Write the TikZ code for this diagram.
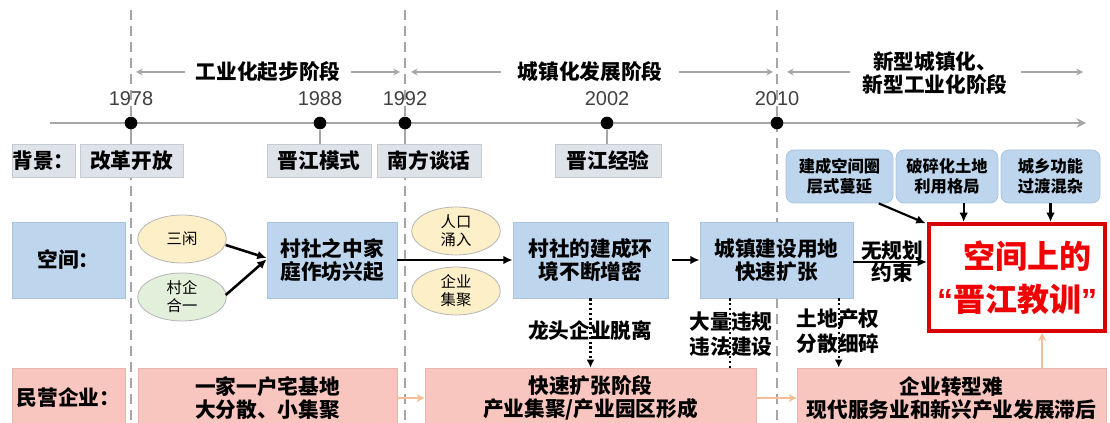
\documentclass[tikz,border=0pt]{standalone}
\usepackage{fontspec}
\newfontfamily\cjk{Noto Sans CJK SC}
\newfontfamily\lat{Liberation Sans}
\usetikzlibrary{shapes.geometric,arrows.meta}
\definecolor{gline}{HTML}{A6A6A6}
\definecolor{bgfill}{HTML}{DEE3EA}
\definecolor{bgline}{HTML}{C6CBD2}
\definecolor{bluefill}{HTML}{BDD6EE}
\definecolor{blueline}{HTML}{A9C3DD}
\definecolor{pinkfill}{HTML}{F8C6BF}
\definecolor{pinkline}{HTML}{EBB4AC}
\definecolor{yelfill}{HTML}{FDEFC8}
\definecolor{grnfill}{HTML}{E2EFDA}
\definecolor{ellline}{HTML}{B5B5B5}
\definecolor{redc}{HTML}{D90000}
\definecolor{redt}{HTML}{F00000}
\definecolor{orng}{HTML}{F6BE98}
% \mybox{name}{x1}{y1}{x2}{y2}{style}{text}
\newcommand\mybox[7]{\node[#6, minimum width={(#4-#2)*0.75pt}, minimum height={(#5-#3)*0.75pt}] (#1) at ({(#2+#4)/2},{(#3+#5)/2}) {#7};}
\begin{document}
\begin{tikzpicture}[x=0.75pt,y=-0.75pt,
  rbox/.style={draw=#1line, fill=#1fill, line width=0.6pt, inner sep=0pt, align=center,
     font=\cjk\bfseries\fontsize{15.5}{17.5}\selectfont},
  tbox/.style={draw=blueline, fill=bluefill, line width=0.6pt, inner sep=0pt, align=center,
     rounded corners=6pt, font=\cjk\bfseries\fontsize{12.2}{15}\selectfont},
  redbox/.style={draw=redc, fill=white, line width=3pt, inner sep=0pt, align=center,
     font=\cjk\bfseries\fontsize{24}{31}\selectfont, text=redt},
  ell/.style={ellipse, draw=ellline, fill=#1, line width=0.6pt, inner sep=0pt, align=center,
     minimum width=66.5pt, minimum height=36pt, font=\cjk\fontsize{11.5}{13.5}\selectfont},
  dsh/.style={draw=gline, line width=1.7pt, dash pattern=on 7.5pt off 4.5pt},
  tick/.style={draw=gline, line width=1.6pt},
  yr/.style={font=\lat\fontsize{15}{15}\selectfont, text=black!75},
  stage/.style={font=\cjk\bfseries\fontsize{15.5}{17.5}\selectfont, align=center},
  sarr/.style={draw=gline, line width=1.4pt, -{Stealth[length=5pt,width=5pt]}},
  blk/.style={draw=black, line width=1.9pt, -{Latex[length=7pt,width=6.5pt]}},
  dotarr/.style={draw=black, line width=1.6pt, dotted, -{Latex[length=6pt,width=6pt]}},
  oarr/.style={draw=orng, line width=1.5pt, -{Stealth[length=6pt,width=6pt]}},
  lbl/.style={font=\cjk\bfseries\fontsize{15.5}{19}\selectfont, align=center},
  dot/.style={circle, fill=black, inner sep=0pt, minimum size=9.5pt}
]
\useasboundingbox (0,0) rectangle (1110,423);

% dashed stage separators
\coordinate (s1t) at (131,10); \coordinate (s1b) at (131,423);
\coordinate (s2t) at (405,10); \coordinate (s2b) at (405,423);
\coordinate (s3t) at (777,10); \coordinate (s3b) at (777,423);
\draw[dsh] (s1t) -- (s1b);
\draw[dsh] (s2t) -- (s2b);
\draw[dsh] (s3t) -- (s3b);

% timeline
\coordinate (tl0) at (50,123); \coordinate (tl1) at (1086,123);
\draw[draw=gline, line width=2.2pt, -{Stealth[length=7pt,width=7pt]}] (tl0) -- (tl1);

% stage labels
\node[stage] (st1) at (268,72) {工业化起步阶段};
\coordinate (st1l) at (136,72); \coordinate (st1r) at (400,72);
\draw[sarr] ([xshift=-4.5pt]st1.west) -- (st1l);
\draw[sarr] ([xshift=4.5pt]st1.east) -- (st1r);
\node[stage] (st2) at (590,72) {城镇化发展阶段};
\coordinate (st2l) at (411,72); \coordinate (st2r) at (773,72);
\draw[sarr] ([xshift=-9pt]st2.west) -- (st2l);
\draw[sarr] ([xshift=9pt]st2.east) -- (st2r);
\node[stage] (st3) at (935,73) {新型城镇化、\\新型工业化阶段};
\coordinate (st3l) at (787,72); \coordinate (st3r) at (1083,72);
\draw[sarr] ([xshift=-6pt,yshift=0.75pt]st3.west) -- (st3l);
\draw[sarr] ([xshift=7pt,yshift=0.75pt]st3.east) -- (st3r);

% background row
\mybox{bglab}{12}{144}{75}{177}{rbox=bg}{背景：}
\mybox{b1}{80}{144}{183}{177}{rbox=bg}{改革开放}
\mybox{b2}{267}{144}{371}{177}{rbox=bg}{晋江模式}
\mybox{b3}{377}{144}{481}{177}{rbox=bg}{南方谈话}
\mybox{b4}{555}{144}{661}{177}{rbox=bg}{晋江经验}

% dots, years, ticks
\node[dot] (d1) at (131,123) {};
\node[dot] (d2) at (320,123) {};
\node[dot] (d3) at (405,123) {};
\node[dot] (d4) at (607,123) {};
\node[dot] (d5) at (777,123) {};
\node[yr] (y1) at (131,99) {1978};
\node[yr] (y2) at (320,99) {1988};
\node[yr] (y3) at (405,99) {1992};
\node[yr] (y4) at (607,99) {2002};
\node[yr] (y5) at (777,99) {2010};
\draw[tick] (d1) -- (d1 |- b1.north);
\draw[tick] (d2) -- (d2 |- b2.north);
\draw[tick] (d3) -- (d3 |- b3.north);
\draw[tick] (d4) -- (d4 |- b4.north);

% top-right boxes
\mybox{t1}{786}{150}{893}{203}{tbox}{建成空间圈\\层式蔓延}
\mybox{t2}{896}{150}{998}{203}{tbox}{破碎化土地\\利用格局}
\mybox{t3}{1001}{150}{1100}{203}{tbox}{城乡功能\\过渡混杂}

% space row
\mybox{sp}{12}{222}{125}{298}{rbox=blue}{空间：}
\node[ell=yelfill] (e1) at (182,239) {三闲};
\node[ell=grnfill] (e2) at (182,297) {村企\\合一};
\mybox{n1}{267}{222}{397}{298}{rbox=blue}{村社之中家\\庭作坊兴起}
\node[ell=yelfill] (e3) at (456,231) {人口\\涌入};
\node[ell=yelfill] (e4) at (456,291) {企业\\集聚};
\mybox{n2}{513}{222}{668}{298}{rbox=blue}{村社的建成环\\境不断增密}
\mybox{n3}{700}{222}{853}{298}{rbox=blue}{城镇建设用地\\快速扩张}
\mybox{red}{929}{224}{1105}{331}{redbox}{\hspace{16pt}空间上的\\[1pt]{\lat\bfseries “}晋江教训{\lat\bfseries ”}}

\draw[blk] (e1.east) ++(-1,6) -- ([yshift=1.5pt]n1.west);
\draw[blk] (e2.east) ++(-1,-2) -- ([yshift=0.5pt]n1.west);
\draw[blk] (n1.east) -- (n2.west);
\draw[blk] (n2.east) ++(4,0) -- (n3.west);
\draw[blk] ([yshift=-1.5pt]n3.east) -- ([yshift=-1.5pt]n3.east -| red.west);
\node[lbl] (w1) at (892,251) {无规划};
\node[lbl] (w2) at (892,273) {约束};
\draw[blk, line width=1.6pt] ([xshift=-11pt]t1.south east) -- ([xshift=-1pt,yshift=-1pt]red.north west);
\draw[blk, line width=1.6pt] ([xshift=12.5pt]t2.south) -- ([xshift=12.5pt]t2.south |- red.north);
\draw[blk, line width=1.6pt] (t3.south) -- (t3.south |- red.north);

% enterprise row
\mybox{pe}{12}{368}{125}{428}{rbox=pink}{民营企业：}
\mybox{p1}{138}{368}{397}{428}{rbox=pink}{一家一户宅基地\\大分散、小集聚}
\mybox{p2}{425}{368}{756}{428}{rbox=pink}{快速扩张阶段\\产业集聚/产业园区形成}
\mybox{p3}{797}{368}{1106}{428}{rbox=pink}{企业转型难\\现代服务业和新兴产业发展滞后}
\draw[oarr] ([yshift=0pt]p1.east) -- ([yshift=0pt]p2.west);
\draw[oarr] ([yshift=0pt]p2.east) -- ([yshift=0pt]p3.west);
\draw[oarr] ([xshift=68pt]p3.north) -- ([xshift=68pt]p3.north |- red.south);

% dotted links
\draw[dotarr] (n2.south) -- (n2.south |- p2.north);
\node[lbl] (l1) at (590,331) {龙头企业脱离};
\draw[draw=black, line width=1.6pt, dotted] ([xshift=-92.5pt]n3.south east) -- ([xshift=-92.5pt]n3.south east |- p2.north);
\node[lbl] (l2) at (731,334) {大量违规\\违法建设};
\draw[dotarr] ([xshift=-11pt]n3.south east) -- ([xshift=-11pt]n3.south east |- p3.north);
\node[lbl] (l3) at (838,331) {土地产权\\分散细碎};
\end{tikzpicture}
\end{document}
